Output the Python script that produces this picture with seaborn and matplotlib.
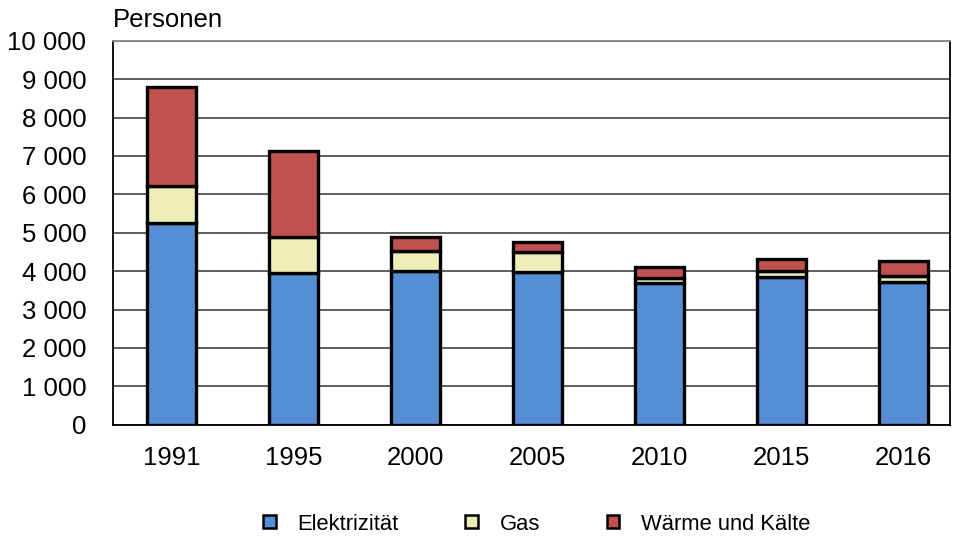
import numpy as np
import pandas as pd
import matplotlib
matplotlib.use("Agg")
import matplotlib.pyplot as plt
import seaborn as sns
from matplotlib.patches import Patch
from matplotlib.ticker import FuncFormatter

years = ["1991", "1995", "2000", "2005", "2010", "2015", "2016"]
elektrizitaet = [5260, 3960, 4010, 3980, 3690, 3860, 3720]
gas = [960, 940, 520, 520, 140, 150, 160]
waerme = [2580, 2240, 370, 270, 280, 310, 390]

series = ["Elektrizität", "Gas", "Wärme und Kälte"]
colors = ["#558ed5", "#eeeeb8", "#c0504d"]

sns.set_style("white")
plt.rcParams["font.family"] = ["Liberation Sans", "DejaVu Sans"]
plt.rcParams["text.color"] = "black"
plt.rcParams["xtick.color"] = "black"
plt.rcParams["ytick.color"] = "black"

fig = plt.figure(figsize=(9.55, 5.37), dpi=100)
ax = fig.add_axes([0.118, 0.209, 0.877, 0.715])

df = pd.DataFrame({"Jahr": years, series[0]: elektrizitaet, series[1]: gas, series[2]: waerme})

# stacked bars: draw each series and shift it onto the running total
bottom = np.zeros(len(years))
for name, col in zip(series, colors):
    sns.barplot(x=df["Jahr"], y=df[name], ax=ax, color=col, saturation=1, width=0.4,
                edgecolor="black", linewidth=2.4, order=years, zorder=3)
    for b, off in zip(ax.containers[-1], bottom):
        b.set_y(off)
    bottom = bottom + df[name].values

ax.set_ylim(0, 10000)
ax.set_xlim(-0.48, 6.38)
ax.set_yticks(np.arange(0, 10001, 1000))
ax.yaxis.set_major_formatter(FuncFormatter(lambda v, p: f"{int(v):,}".replace(",", " ")))
ax.grid(axis="y", color="#333333", linewidth=1.1, zorder=0)
ax.set_axisbelow(True)
ax.tick_params(axis="both", length=0, labelsize=18.5, labelcolor="black")
ax.tick_params(axis="x", pad=15)
ax.tick_params(axis="y", pad=19)
ax.set_xlabel("")
ax.set_ylabel("")
for s in ax.spines.values():
    s.set_color("black")
    s.set_linewidth(1.3)
ax.spines["top"].set_color("#888888")

fig.text(0.118, 0.962, "Personen", fontsize=18.5, ha="left", va="center", color="black")

handles = [Patch(facecolor=c, edgecolor="black", linewidth=1.8, label=n) for n, c in zip(series, colors)]
fig.legend(handles=handles, loc="center", bbox_to_anchor=(0.562, 0.024), ncol=3, frameon=False,
           fontsize=15.8, handlelength=0.55, handleheight=0.55, columnspacing=3.04, handletextpad=1.0,
           labelcolor="black")

fig.savefig("out.png", dpi=100)
